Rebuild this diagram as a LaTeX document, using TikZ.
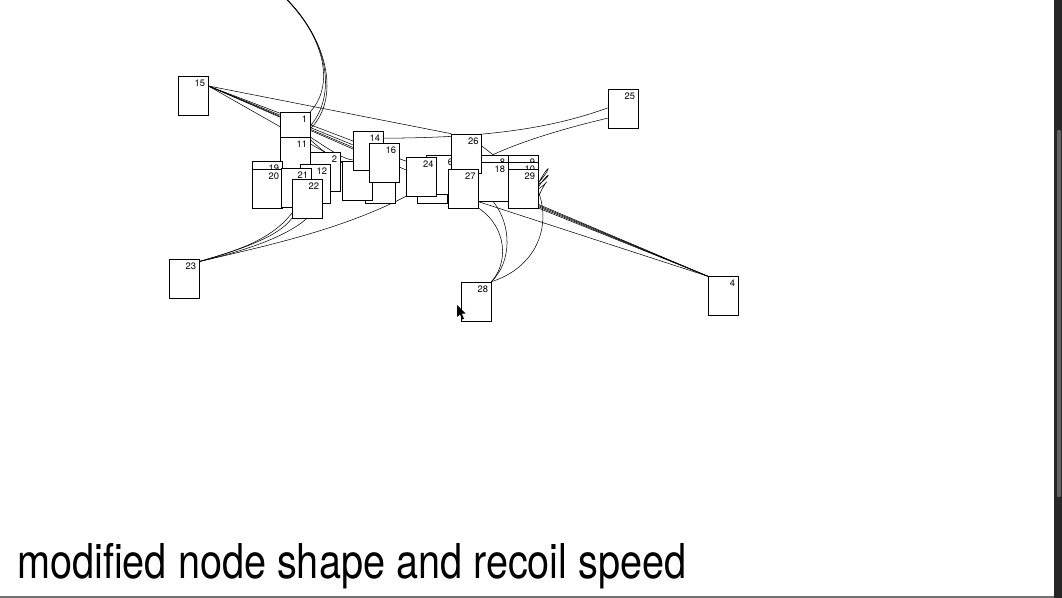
\documentclass[tikz,border=0pt]{standalone}
\usepackage{fontspec}
\usepackage{graphicx}
\setmainfont{TeX Gyre Heros}
\usetikzlibrary{calc}

\pgfdeclarelayer{bg}
\pgfdeclarelayer{edges}
\pgfsetlayers{bg,edges,main}

\tikzset{
    vbox/.style={draw, fill=white, line width=0.5pt, inner sep=0pt,
        minimum width=0.9cm, minimum height=1.17cm},
    lbl/.style={anchor=north east, inner xsep=2.5pt, inner ysep=3pt,
        font=\fontsize{8}{9}\selectfont},
    link/.style={line width=0.45pt},
}

\begin{document}
\begin{tikzpicture}[x=0.03cm, y=-0.03cm]
    \useasboundingbox (0,0) rectangle (1062,598);
    \clip (0,0) rectangle (1062,598);
    \begin{pgfonlayer}{bg}
        \fill[white] (0,0) rectangle (1062,598);
    \end{pgfonlayer}

    \foreach \n/\t/\x/\y in {15/15/193/95.5, 25/25/623/109, 23/23/184/278.5,
            28/28/476/301.5, 4/4/723/296,
            1/1/295/131.5, 11/11/295/156.5, 19/19/267/180.5, 20/20/267/188.5,
            2/2/325/171.5, 12/12/315/184, 21/21/296/187.5, 22/22/307/198.5,
            B//380/183.5, A//357/180.5, 14/14/368/151, 16/16/384/162.5,
            C//432/183.5, 6/6/441/174.5, 24/24/421.5/176.5,
            8/8/493/174.5, 18/18/493/181.5, 9/9/523/174.5, 10/10/523/181.5,
            29/29/523/188.5, 26/26/466.5/153.5, 27/27/463.5/188.5} {
        \node[vbox, label={[lbl]north east:\t}] (n\n) at (\x,\y) {};
    }

    \coordinate (up) at (250,-30);

    \begin{pgfonlayer}{edges}
        \foreach \t in {n14,n16,nB,n24,n6} {
            \draw[link] (n15.32) -- (\t);
        }
        \draw[link] (n15.32) -- (n26.north west);

        \draw[link] (n25.176) .. controls (560,125) and (500,138) .. (n14.40);
        \draw[link] (n25.211) .. controls (565,128) and (520,142) .. (n8.north);
        \draw[link] (n26.26) -- (n8.north);

        \draw[link] (n23.48) .. controls (240,252) and (285,238) .. (n22.south);
        \draw[link] (n23.48) .. controls (240,250) and (280,236) .. (n22.south west);
        \draw[link] (n23.48) .. controls (235,251) and (275,240) .. (n21.south);
        \draw[link] (n23.48) .. controls (270,245) and (340,230) .. (n24.south west);

        \draw[link] (n28.north east) .. controls (512,262) and (512,225) .. (n18.south);
        \draw[link] (n28.north east) .. controls (508,264) and (508,228) .. (n27.south east);
        \draw[link] (n28.north east) .. controls (535,268) and (552,228) .. (n29.-10);

        \draw[link] (n4.north west) -- (n27.-41);
        \foreach \a in {-52,-50,-48,-46} {
            \draw[link] (n4.north west) -- (n29.\a);
        }

        \draw[link] (n1.north east) .. controls (340,80) and (320,15) .. (up);
        \draw[link] (n1.20) .. controls (343,88) and (323,15) .. (up);
        \draw[link] (n1.10) .. controls (345,95) and (326,17) .. (up);
        \draw[link] (n1.-20) .. controls (330,150) and (345,160) .. (n14.210);
        \draw[link] (n1.-28) .. controls (328,156) and (343,166) .. (n14.222);

        \draw[link] (n9.-30) .. controls (551,160) and (552,168) .. (n10.-5);
        \draw[link] (n10.-20) .. controls (551,168) and (552,176) .. (n29.15);
        \draw[link] (n10.-45) .. controls (549,174) and (550,182) .. (n29.-2);
    \end{pgfonlayer}

    \fill[black] (457,305) -- (457,317) -- (460,314.5) -- (462.3,319.5)
        -- (464,318.7) -- (461.8,313.8) -- (465.5,313.5) -- cycle;

    \node[anchor=base west, inner sep=0pt, font=\fontsize{41}{41}\selectfont] (caption)
        at (17,578) {\scalebox{0.825}[1]{modified node shape and recoil speed}};

    \draw[black!55, line width=1pt] (0,597) -- (1054,597);
    \fill[black!85] (1054,0) rectangle (1062,598);
    \fill[black!62, rounded corners=1pt] (1057,130) rectangle (1061,497);
\end{tikzpicture}
\end{document}
